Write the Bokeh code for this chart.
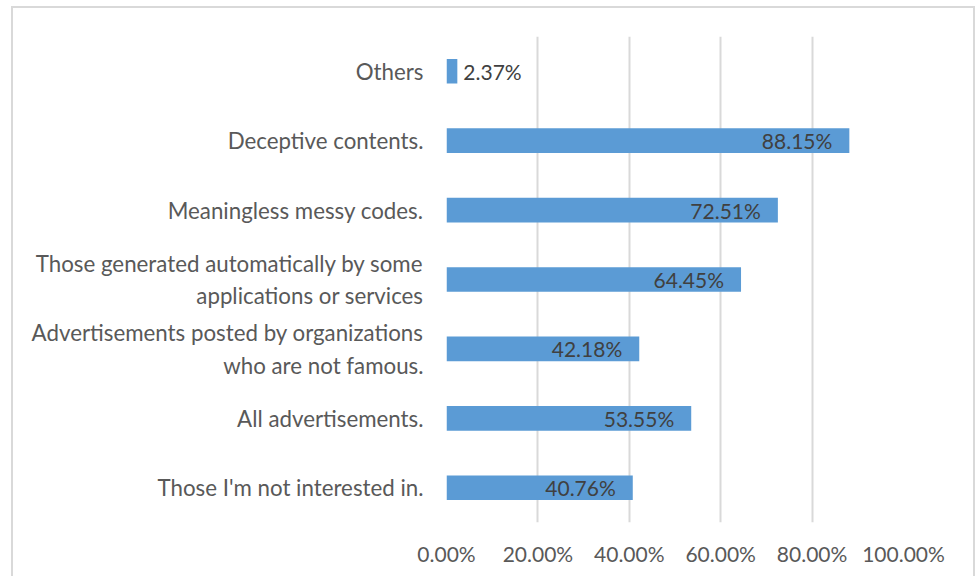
from bokeh.plotting import figure
from bokeh.models import (ColumnDataSource, FixedTicker, PrintfTickFormatter, FactorRange, Label)
from bokeh.core.properties import value
from bokeh.embed import file_html
from bokeh.resources import INLINE

categories = [
    "Those I'm not interested in.",
    "All advertisements.",
    "Advertisements posted by organizations\nwho are not famous.",
    "Those generated automatically by some\napplications or services",
    "Meaningless messy codes.",
    "Deceptive contents.",
    "Others",
]
percent_values = [40.76, 53.55, 42.18, 64.45, 72.51, 88.15, 2.37]
x_ticks = [0, 20, 40, 60, 80, 100]

BLUE = "#5B9BD5"
GRID = "#D9D9D9"
TEXT = "#595959"
FONT = "Lato"

inside = [v > 10 for v in percent_values]
src = ColumnDataSource(dict(
    cat=categories,
    val=percent_values,
    lab=[f"{v:.2f}%" for v in percent_values],
    align=["right" if i else "left" for i in inside],
    xoff=[-17 if i else 6 for i in inside],
))

p = figure(
    width=960, height=570,
    y_range=FactorRange(*categories, range_padding=0),
    x_range=(0, 100),
    output_backend="svg", toolbar_location=None,
    min_border_left=433, min_border_right=70, min_border_top=28, min_border_bottom=56,
    styles={"margin-left": "13px", "margin-top": "8px",
            "box-shadow": "-2px -2px 0 0 #D9D9D9, 2px -2px 0 0 #D9D9D9"},
)
p.outline_line_color = None
p.background_fill_color = "white"
p.border_fill_color = "white"

p.hbar(y="cat", right="val", left=0, height=0.355, source=src,
       fill_color=BLUE, line_color=None)
p.text(x="val", y="cat", text="lab", source=src, text_align="align",
       x_offset="xoff", text_baseline="middle", text_color="#404040",
       text_font=value(FONT), text_font_size="21px")

multi = [c for c in categories if "\n" in c]
p.xaxis.ticker = FixedTicker(ticks=x_ticks)
p.xaxis.formatter = PrintfTickFormatter(format="%.2f%%")
p.yaxis.major_label_overrides = {c: "" for c in multi}
for ax in (p.xaxis[0], p.yaxis[0]):
    ax.axis_line_color = None
    ax.major_tick_line_color = None
    ax.minor_tick_line_color = None
    ax.major_tick_out = 0
    ax.major_tick_in = 0
    ax.minor_tick_out = 0
    ax.minor_tick_in = 0
    ax.major_label_text_font = FONT
    ax.major_label_text_color = TEXT
p.xaxis.major_label_text_font_size = "21px"
p.yaxis.major_label_text_font_size = "22.3px"
p.xaxis.major_label_standoff = 18
p.yaxis.major_label_standoff = 23

# two-line category labels, lines centred as in the original
for c in multi:
    p.add_layout(Label(x=212, x_units="canvas", y=categories.index(c) + 0.5,
                       text=c, text_align="center", text_baseline="middle",
                       text_line_height=1.09,
                       text_font=FONT, text_font_size="22.3px", text_color=TEXT))

p.ygrid.grid_line_color = None
p.xgrid.grid_line_color = GRID
p.xgrid.grid_line_width = 2
p.xgrid.ticker = FixedTicker(ticks=x_ticks)

open("out.html", "w").write(file_html(p, INLINE))
